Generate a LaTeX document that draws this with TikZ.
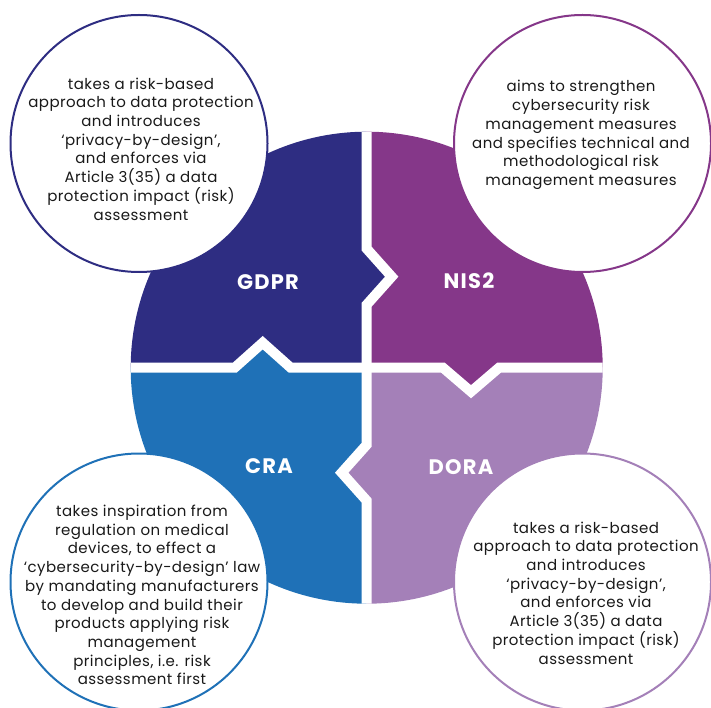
\documentclass[tikz,border=0pt]{standalone}
\usepackage{fontspec}
\setmainfont{Poppins}
\definecolor{gdprcol}{RGB}{46,45,130}
\definecolor{niscol}{RGB}{133,55,137}
\definecolor{cracol}{RGB}{31,113,183}
\definecolor{doracol}{RGB}{164,128,184}
\tikzset{
  note/.style={circle, draw, fill=white, line width=2pt, minimum size=257pt, inner sep=0pt},
  notetext/.style={align=center, font=\fontsize{15}{18.7}\selectfont\addfontfeatures{LetterSpace=3}, text=black!90},
  tag/.style={text=white, font=\fontsize{21}{24}\selectfont\bfseries\addfontfeatures{LetterSpace=6}},
  gap/.style={white, line width=10pt}
}
\begin{document}
\begin{tikzpicture}[x=1pt, y=-1pt, line join=miter]
\def\cx{366.7}\def\cy{367.7}\def\R{236}
\useasboundingbox (0,0) rectangle (711,708);
\begin{scope}
\clip (\cx,\cy) circle[radius=\R pt];
\fill[gdprcol] (0,0) -- (\cx,0) -- (\cx,248.7) -- (391.7,276.7) -- (\cx,304.7) -- (\cx,\cy) -- (290.7,\cy) -- (262.7,342.7) -- (234.7,\cy) -- (0,\cy) -- cycle;
\fill[niscol] (\cx,0) -- (711,0) -- (711,\cy) -- (499,\cy) -- (471,391.7) -- (443,\cy) -- (\cx,\cy) -- (\cx,304.7) -- (391.7,276.7) -- (\cx,248.7) -- cycle;
\fill[cracol] (0,\cy) -- (234.7,\cy) -- (262.7,342.7) -- (290.7,\cy) -- (\cx,\cy) -- (\cx,444.7) -- (341.7,472.7) -- (\cx,500.7) -- (\cx,708) -- (0,708) -- cycle;
\fill[doracol] (\cx,\cy) -- (443,\cy) -- (471,391.7) -- (499,\cy) -- (711,\cy) -- (711,708) -- (\cx,708) -- (\cx,500.7) -- (341.7,472.7) -- (\cx,444.7) -- cycle;
\draw[gap] (\cx,0) -- (\cx,248.7) -- (391.7,276.7) -- (\cx,304.7) -- (\cx,444.7) -- (341.7,472.7) -- (\cx,500.7) -- (\cx,708);
\draw[gap] (0,\cy) -- (234.7,\cy) -- (262.7,342.7) -- (290.7,\cy) -- (443,\cy) -- (471,391.7) -- (499,\cy) -- (711,\cy);
\end{scope}
\node[tag] (gdpr) at (268,282) {GDPR};
\node[tag] (nis) at (469,281) {NIS2};
\node[tag] (cra) at (269,466) {CRA};
\node[tag] (dora) at (461,467) {DORA};
\node[note, draw=gdprcol] (gdprnote) at (139,143.5) {};
\node[note, draw=niscol] (nisnote) at (582.5,143.5) {};
\node[note, draw=cracol] (cranote) at (139,582) {};
\node[note, draw=doracol] (doranote) at (582.5,582) {};
\node[notetext] (gdprtext) at (141,149) {takes a risk-based\\approach to data protection\\and introduces\\‘privacy-by-design’,\\and enforces via\\Article 3(35) a data\\protection impact (risk)\\assessment};
\node[notetext] (nistext) at (581,135) {aims to strengthen\\cybersecurity risk\\management measures\\and specifies technical and\\methodological risk\\management measures};
\node[notetext] (cratext) at (142,595) {takes inspiration from\\regulation on medical\\devices, to effect a\\‘cybersecurity-by-design’ law\\by mandating manufacturers\\to develop and build their\\products applying risk\\management\\principles, i.e. risk\\assessment first};
\node[notetext] (doratext) at (586,593) {takes a risk-based\\approach to data protection\\and introduces\\‘privacy-by-design’,\\and enforces via\\Article 3(35) a data\\protection impact (risk)\\assessment};
\end{tikzpicture}
\end{document}
